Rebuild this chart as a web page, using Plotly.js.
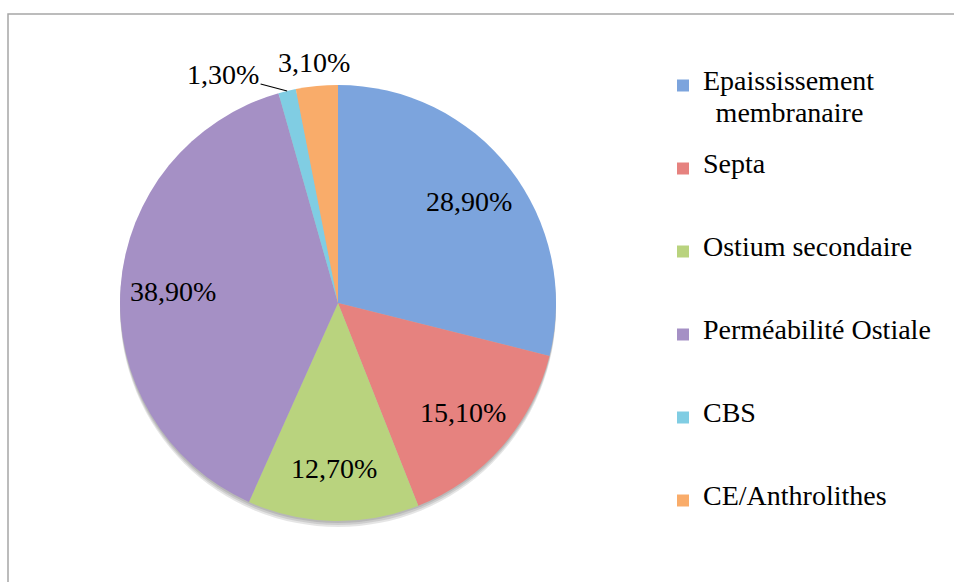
<!DOCTYPE html>
<html><head><meta charset="utf-8">
<script src="https://cdn.plot.ly/plotly-3.0.1.min.js"></script>
<style>body{margin:0;background:#fff}#chart{width:954px;height:582px}</style>
</head><body><div id="chart"></div>
<script>
const categories = ["Epaississement membranaire","Septa","Ostium secondaire","Perméabilité Ostiale","CBS","CE/Anthrolithes"];
const legendLabels = [["Epaississement","\u00a0\u2009membranaire"],["Septa"],["Ostium secondaire"],["Perméabilité Ostiale"],["CBS"],["CE/Anthrolithes"]];
const values = [28.9, 15.1, 12.7, 38.9, 1.3, 3.1];
const colors = ["#7ca4dd","#e6827f","#b9d37e","#a590c5","#80cde3","#f9ac6a"];

const FONT = "Liberation Serif, DejaVu Serif, serif";
const FS = 28;
const txt = values.map(v => v.toFixed(2).replace(".", ",") + "%");
const SP = "\u00a0";
const labelsFmt = legendLabels.map(lines => {
  const L = lines.map(s => '<span style="font-size:' + FS + 'px">' + s + '</span>');
  // 5 lines per entry: the text sits on the middle line, a second line two rows below
  return [SP, SP, L[0], SP, L.length > 1 ? L[1] : SP].join("<br>");
});

const W = 954, H = 582;
const dom = {x: [120/W, 556/W], y: [1-521/H, 1-85/H]};
const cx = (dom.x[0] + dom.x[1]) / 2, cy = (dom.y[0] + dom.y[1]) / 2;
const Rpx = Math.min((dom.x[1]-dom.x[0])*W, (dom.y[1]-dom.y[0])*H) / 2;
const total = values.reduce((a, b) => a + b, 0);

const annotations = [];
let cum = 0;
const outsideIdx = values.map((v, i) => v < 5 ? i : -1).filter(i => i >= 0);
values.forEach((v, i) => {
  const ang = (cum + v/2) / total * 2 * Math.PI; // clockwise from top
  cum += v;
  const sx = Math.sin(ang), sy = Math.cos(ang);
  const font = {family: FONT, size: FS, color: "#000"};
  if (v >= 5) {
    const f = 0.76;
    annotations.push({xref: "paper", yref: "paper", x: cx + sx*Rpx*f/W, y: cy + sy*Rpx*f/H,
      text: txt[i], showarrow: false, font: font, xanchor: "center", yanchor: "middle"});
  } else if (i === outsideIdx[outsideIdx.length-1]) {
    const f = 1.11;
    annotations.push({xref: "paper", yref: "paper", x: cx + sx*Rpx*f/W, y: cy + sy*Rpx*f/H,
      text: txt[i], showarrow: false, font: font, xanchor: "center", yanchor: "middle"});
  } else {
    annotations.push({xref: "paper", yref: "paper", x: cx + sx*Rpx/W, y: cy + sy*Rpx/H,
      text: txt[i], showarrow: true, arrowhead: 0, arrowwidth: 1.2, arrowcolor: "#000",
      standoff: 0, ax: -64, ay: -17, font: font});
  }
});

const data = [{
  type: "pie",
  labels: labelsFmt,
  values: values,
  textinfo: "none",
  hoverinfo: "label+percent",
  sort: false,
  direction: "clockwise",
  rotation: 0,
  marker: {colors: colors, line: {width: 0}},
  domain: dom,
  automargin: false
}];

// soft drop shadow under the pie
const shadows = [2, 4, 6].map(d => ({
  type: "circle", xref: "paper", yref: "paper", layer: "below",
  x0: cx - Rpx/W, x1: cx + Rpx/W,
  y0: cy - Rpx/H - d/H, y1: cy + Rpx/H - d/H,
  fillcolor: "rgba(0,0,0,0.10)", line: {width: 0}
}));

const LFS = 80 / 5 / 1.3; // legend row height so each entry is ~83px tall
const layout = {
  width: W, height: H,
  margin: {l: 0, r: 0, t: 0, b: 0},
  paper_bgcolor: "#fff",
  font: {family: FONT, color: "#000"},
  showlegend: true,
  legend: {
    x: 663/W, xanchor: "left",
    y: 1 - 39/H, yanchor: "top",
    font: {family: FONT, size: LFS, color: "#000"},
    bgcolor: "rgba(0,0,0,0)", borderwidth: 0
  },
  annotations: annotations,
  shapes: shadows.concat([{type: "rect", xref: "paper", yref: "paper",
    x0: 8/W, x1: 1.02, y0: -0.02, y1: 1 - 14/H,
    line: {color: "#a6a6a6", width: 1.5}, fillcolor: "rgba(0,0,0,0)"}])
};

Plotly.newPlot("chart", data, layout, {displayModeBar: false, staticPlot: true});
</script>
</body></html>
